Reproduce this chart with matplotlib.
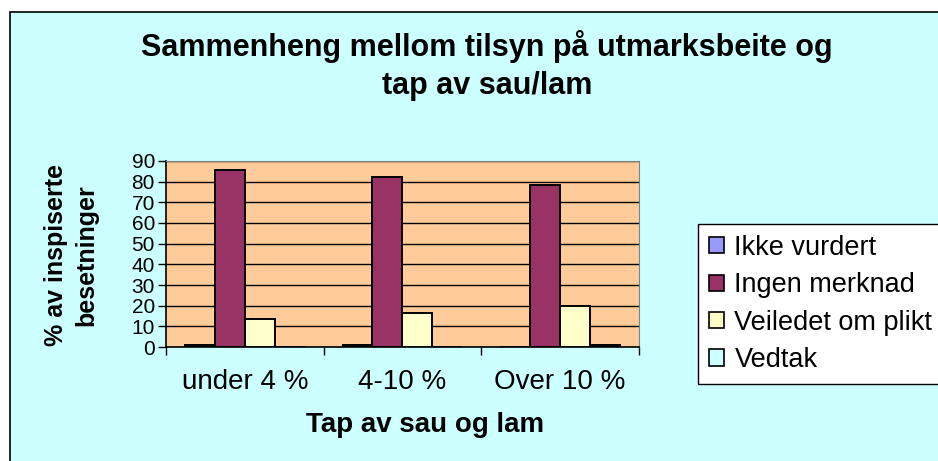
import matplotlib
matplotlib.use("Agg")
import matplotlib.pyplot as plt
import numpy as np
from matplotlib.patches import Rectangle

categories = ["under 4 %", "4-10 %", "Over 10 %"]
series_names = ["Ikke vurdert", "Ingen merknad", "Veiledet om plikt", "Vedtak"]
ikke_vurdert = [1, 1, 0]
ingen_merknad = [85.5, 82, 78.5]
veiledet = [13.7, 16.4, 20]
vedtak = [0, 0, 1]
colors = ["#9999FF", "#993366", "#FFFFCC", "#CCFFFF"]

plt.rcParams["font.family"] = ["Liberation Sans", "DejaVu Sans"]

fig = plt.figure(figsize=(9.38, 4.61), dpi=100)
fig.patch.set_facecolor("white")
# chart area frame (cyan with black border, clipped at right/bottom)
fig.patches.append(Rectangle((10 / 938, -0.05), 1.1, 1.05 - 12 / 461,
                             transform=fig.transFigure, facecolor="#CCFFFF",
                             edgecolor="black", lw=1.2, zorder=-5))

ax = fig.add_axes([0.177, 0.247, 0.504, 0.404])
ax.set_facecolor("#FFCC99")

x = np.arange(len(categories))
w = 0.19
data = [ikke_vurdert, ingen_merknad, veiledet, vedtak]
for i, (name, vals) in enumerate(zip(series_names, data)):
    ax.bar(x - 0.38 + w * i + w / 2, vals, w, color=colors[i], edgecolor="black",
           lw=1.4, label=name, zorder=3)

ax.set_xlim(-0.5, 2.5)
ax.set_ylim(0, 90)
ax.set_yticks(np.arange(0, 91, 10))
ax.yaxis.grid(True, color="black", lw=1.0, zorder=1)
ax.set_axisbelow(True)
ax.set_xticks([-0.5, 0.5, 1.5, 2.5])
ax.set_xticklabels([])
ax.set_xticks(x, minor=True)
ax.set_xticklabels(categories, minor=True, fontsize=20)
ax.tick_params(axis="x", which="minor", length=0, pad=16)
ax.tick_params(axis="x", which="major", length=6, width=1, direction="out")
ax.tick_params(axis="y", length=6, width=1, direction="out", labelsize=15, pad=2)
for s in ["top", "right"]:
    ax.spines[s].set_color("#808080")
for s in ["left", "bottom"]:
    ax.spines[s].set_color("black")
    ax.spines[s].set_linewidth(1.2)

fig.text(0.519, 0.857, "Sammenheng mellom tilsyn på utmarksbeite og\ntap av sau/lam",
         ha="center", va="center", fontsize=22, fontweight="bold", linespacing=1.35)
fig.text(0.453, 0.078, "Tap av sau og lam", ha="center", va="center",
         fontsize=20, fontweight="bold")
fig.text(0.076, 0.447, "% av inspiserte\nbesetninger", ha="center", va="center",
         rotation=90, fontsize=18, fontweight="bold", linespacing=1.35)

leg = fig.legend(loc="upper left", bbox_to_anchor=(0.744, 0.514), fontsize=19.5,
                 frameon=True, fancybox=False, framealpha=1, facecolor="white",
                 handlelength=0.55, handleheight=0.55,
                 handletextpad=0.4, labelspacing=0.42, borderpad=0.4,
                 borderaxespad=0)
leg.get_frame().set_edgecolor("black")
leg.get_frame().set_linewidth(1.0)
for h in leg.legend_handles:
    h.set_linewidth(1.2)

fig.savefig("out.png", dpi=100)
